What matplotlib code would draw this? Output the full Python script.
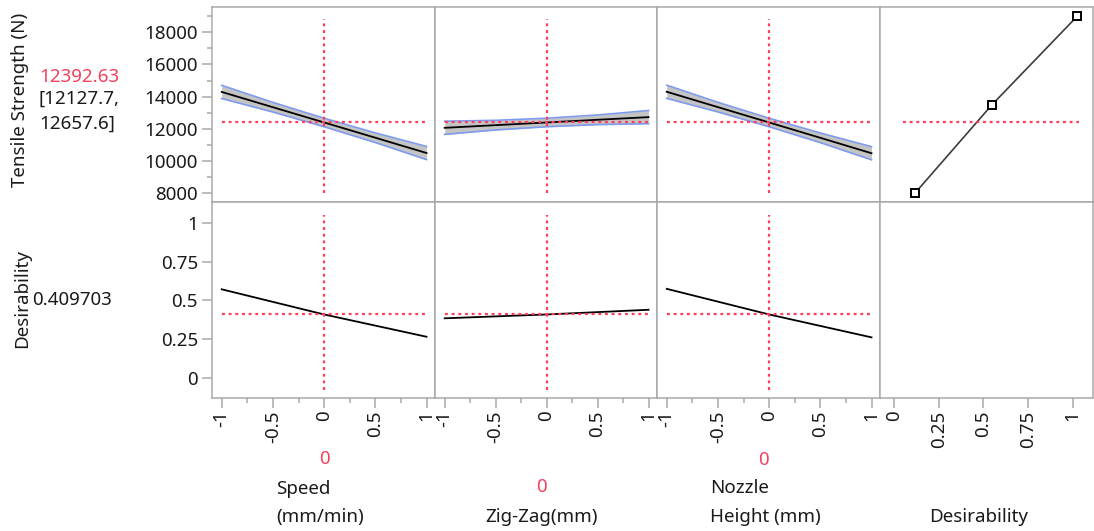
import matplotlib
matplotlib.use("Agg")
import matplotlib.pyplot as plt
from matplotlib.ticker import MultipleLocator, FixedLocator, NullLocator

# ---------------- data ----------------
factors = ["Speed", "Zig-Zag(mm)", "Nozzle Height (mm)"]
factor_x = [-1, -0.5, 0, 0.5, 1]

speed_ts = [14290, 13340, 12392.63, 11445, 10495]
speed_lo = [13880, 13040, 12127.7, 11145, 10085]
speed_hi = [14700, 13640, 12657.6, 11745, 10905]

zig_ts = [12060, 12226, 12392.63, 12560, 12725]
zig_lo = [11650, 11926, 12127.7, 12260, 12315]
zig_hi = [12470, 12526, 12657.6, 12860, 13135]

noz_ts = [14300, 13346, 12392.63, 11440, 10480]
noz_lo = [13890, 13046, 12127.7, 11140, 10070]
noz_hi = [14710, 13646, 12657.6, 11740, 10890]

des_x = [-1, 0, 1]
speed_des = [0.572, 0.409703, 0.266]
zig_des = [0.385, 0.409703, 0.440]
noz_des = [0.575, 0.409703, 0.262]

# desirability function of the response
dfun_d = [0.116, 0.549, 1.027]
dfun_ts = [8000, 13509, 19010]

current_x = 0
pred_ts = 12392.63
pred_lo_txt = "[12127.7,"
pred_hi_txt = "12657.6]"
pred_des = 0.409703

ts_ticks = [8000, 10000, 12000, 14000, 16000, 18000]
des_ticks = [0, 0.25, 0.5, 0.75, 1]
x_ticks = [-1, -0.5, 0, 0.5, 1]
x_ticklabels = ["-1", "-0.5", "0", "0.5", "1"]
des_ticklabels = ["0", "0.25", "0.5", "0.75", "1"]

# ---------------- style ----------------
plt.rcParams['font.family'] = ['Noto Sans', 'DejaVu Sans']
FS = 13.5
RED = '#ff3d5a'
RED_TXT = '#f4405c'
GRAY = '#a9a9a9'
BAND = '#c4c4c4'
BLUE = '#7d9bef'
TXT = '#1a1a1a'

W, H = 1094, 531
fig = plt.figure(figsize=(W / 100, H / 100), dpi=100)

def fx(x):
    return x / W

def fy(y):
    return 1 - y / H

xs_px = [212, 435, 657, 880, 1093]
ys_px = [6.5, 202, 398]

axes = [[None] * 4 for _ in range(2)]
for r in range(2):
    for c in range(4):
        l = fx(xs_px[c]); rgt = fx(xs_px[c + 1])
        t = fy(ys_px[r]); b = fy(ys_px[r + 1])
        ax = fig.add_axes([l, b, rgt - l, t - b])
        for s in ax.spines.values():
            s.set_color(GRAY)
            s.set_linewidth(1.1)
        ax.tick_params(which='both', direction='out', color=GRAY, width=1.1,
                       labelsize=FS, labelcolor=TXT)
        ax.tick_params(which='major', length=7)
        ax.tick_params(which='minor', length=3.6)
        axes[r][c] = ax

TS_LIM = (7450, 19600)
D_LIM = (-0.129, 1.135)
X_LIM = (-1.095, 1.083)
DX_LIM = (-0.080, 1.114)

dot = dict(color=RED, lw=1.6, ls=(0, (1.3, 1.7)))

ts_series = [(speed_ts, speed_lo, speed_hi), (zig_ts, zig_lo, zig_hi), (noz_ts, noz_lo, noz_hi)]
des_series = [speed_des, zig_des, noz_des]

for c in range(3):
    ax = axes[0][c]
    m, lo, hi = ts_series[c]
    ax.fill_between(factor_x, lo, hi, color=BAND, lw=0)
    ax.plot(factor_x, lo, color=BLUE, lw=1.2)
    ax.plot(factor_x, hi, color=BLUE, lw=1.2)
    ax.plot(factor_x, m, color='black', lw=1.3)
    ax.plot([-1, 1], [pred_ts, pred_ts], **dot)
    ax.plot([current_x, current_x], [8000, 18800], **dot)
    ax.set_xlim(*X_LIM); ax.set_ylim(*TS_LIM)

    ax2 = axes[1][c]
    ax2.plot(des_x, des_series[c], color='black', lw=1.3)
    ax2.plot([-1, 1], [pred_des, pred_des], **dot)
    ax2.plot([current_x, current_x], [-0.075, 1.05], **dot)
    ax2.set_xlim(*X_LIM); ax2.set_ylim(*D_LIM)

# desirability function panel
axd = axes[0][3]
axd.plot(dfun_d, dfun_ts, color='#3c3c3c', lw=1.2, marker='s', ms=6,
         mfc='white', mec='black', mew=1.4)
axd.plot([0.048, 1.035], [pred_ts, pred_ts], **dot)
axd.set_xlim(*DX_LIM); axd.set_ylim(*TS_LIM)
axes[1][3].set_xlim(*DX_LIM); axes[1][3].set_ylim(*D_LIM)

# ticks
for r in range(2):
    for c in range(4):
        ax = axes[r][c]
        if c == 0:
            if r == 0:
                ax.yaxis.set_major_locator(FixedLocator(ts_ticks))
                ax.yaxis.set_minor_locator(MultipleLocator(1000))
            else:
                ax.yaxis.set_major_locator(FixedLocator(des_ticks))
                ax.yaxis.set_minor_locator(NullLocator())
                ax.set_yticklabels(des_ticklabels)
            ax.tick_params(axis='y', pad=3)
        else:
            ax.set_yticks([])
            ax.yaxis.set_minor_locator(NullLocator())
        if r == 1:
            if c < 3:
                ax.set_xticks(x_ticks)
                ax.set_xticklabels(x_ticklabels, rotation=90)
                ax.xaxis.set_minor_locator(MultipleLocator(0.25))
            else:
                ax.set_xticks(des_ticks)
                ax.set_xticklabels(des_ticklabels, rotation=90)
                ax.xaxis.set_minor_locator(NullLocator())
            ax.tick_params(axis='x', pad=2)
        else:
            ax.set_xticks([])
            ax.xaxis.set_minor_locator(NullLocator())

# left labels
fig.text(fx(20), fy(100), "Tensile Strength (N)", rotation=90, ha='center', va='center',
         fontsize=FS, color=TXT)
fig.text(fx(39), fy(77), f"{pred_ts:.2f}", ha='left', va='center', fontsize=FS, color=RED_TXT)
fig.text(fx(39), fy(99), pred_lo_txt, ha='left', va='center', fontsize=FS, color=TXT)
fig.text(fx(39), fy(124), pred_hi_txt, ha='left', va='center', fontsize=FS, color=TXT)
fig.text(fx(22), fy(298), "Desirability", rotation=90, ha='center', va='center',
         fontsize=FS, color=TXT)
fig.text(fx(32), fy(300), f"{pred_des:.6f}", ha='left', va='center', fontsize=FS, color=TXT)

# bottom labels
fig.text(fx(324), fy(459), "0", ha='center', va='center', fontsize=FS, color=RED_TXT)
fig.text(fx(276), fy(489), "Speed", ha='left', va='center', fontsize=FS, color=TXT)
fig.text(fx(276), fy(517), "(mm/min)", ha='left', va='center', fontsize=FS, color=TXT)
fig.text(fx(541), fy(487), "0", ha='center', va='center', fontsize=FS, color=RED_TXT)
fig.text(fx(541), fy(517), "Zig-Zag(mm)", ha='center', va='center', fontsize=FS, color=TXT)
fig.text(fx(763), fy(460), "0", ha='center', va='center', fontsize=FS, color=RED_TXT)
fig.text(fx(710), fy(488), "Nozzle", ha='left', va='center', fontsize=FS, color=TXT)
fig.text(fx(710), fy(517), "Height (mm)", ha='left', va='center', fontsize=FS, color=TXT)
fig.text(fx(979), fy(517), "Desirability", ha='center', va='center', fontsize=FS, color=TXT)

fig.savefig("out.png", dpi=100)
